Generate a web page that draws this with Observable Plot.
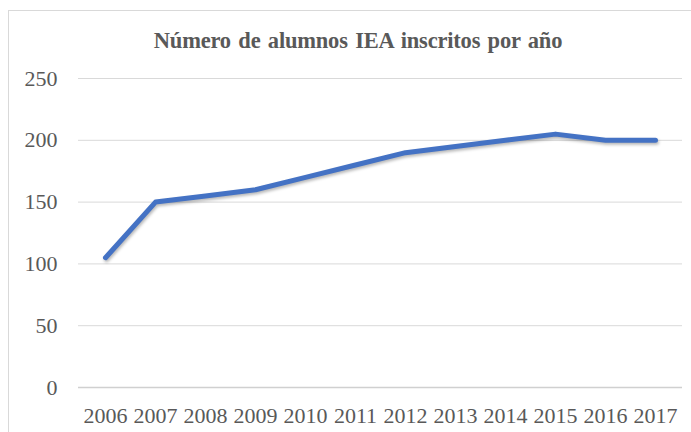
<!DOCTYPE html>
<html>
<head>
<meta charset="utf-8">
<script src="https://cdn.jsdelivr.net/npm/d3@7"></script>
<script src="https://cdn.jsdelivr.net/npm/@observablehq/plot@0.6"></script>
<style>
  html, body { margin: 0; padding: 0; background: #fff; }
  #wrap { position: relative; width: 691px; height: 432px; overflow: hidden; background: #fff; }
  #frame { position: absolute; left: 8px; top: 10px; width: 700px; height: 440px;
           border-left: 1px solid #d9d9d9; border-top: 1px solid #d9d9d9; box-sizing: border-box; pointer-events: none; }
  #title { position: relative; height: 60px; box-sizing: border-box; padding-top: 29px; padding-left: 25px;
           text-align: center; font-family: "Liberation Serif", "Times New Roman", serif; font-weight: bold;
           font-size: 22.5px; line-height: 24px; color: #595959; word-spacing: 2px; letter-spacing: -0.2px; }
  #chart svg { display: block; }
  #chart svg g[aria-label$="tick label"] { font-size: 22px; }
</style>
</head>
<body>
<div id="wrap">
  <div id="frame"></div>
  <div id="title">Número de alumnos IEA inscritos por año</div>
  <div id="chart"></div>
</div>
<script>
const years = ["2006","2007","2008","2009","2010","2011","2012","2013","2014","2015","2016","2017"];
const values = [105, 150, 155, 160, 170, 180, 190, 195, 200, 205, 200, 200];
const yTicks = [0, 50, 100, 150, 200, 250];

const data = years.map((year, i) => ({year, value: values[i]}));

const chart = Plot.plot({
  width: 691,
  height: 372,
  marginLeft: 78,
  marginRight: 9,
  marginTop: 18,
  marginBottom: 45,
  style: {fontFamily: "'Liberation Serif', 'Times New Roman', serif", fontSize: "22px", background: "transparent", color: "#595959"},
  x: {type: "point", domain: years, padding: 0.5, label: null},
  y: {domain: [0, 250], label: null},
  marks: [
    Plot.ruleY(yTicks.filter(d => d > 0), {stroke: "#d9d9d9", strokeWidth: 1}),
    Plot.ruleY([0], {stroke: "#d0d0d0", strokeWidth: 1.5}),
    Plot.axisY({ticks: yTicks, tickSize: 0, tickPadding: 21, fill: "#595959", label: null}),
    Plot.axisX({tickSize: 0, tickPadding: 20, fill: "#595959", label: null}),
    Plot.line(data, {x: "year", y: "value", stroke: "#4472C4", strokeWidth: 5, strokeLinecap: "round", strokeLinejoin: "round"})
  ]
});
document.getElementById("chart").appendChild(chart);
d3.select(chart).selectAll("g[aria-label$='tick label']").attr("font-size", 22);
d3.select(chart).selectAll("g[aria-label='line'] path")
  .style("filter", "drop-shadow(1px 2px 1.5px rgba(0,0,0,0.28))");
</script>
</body>
</html>
